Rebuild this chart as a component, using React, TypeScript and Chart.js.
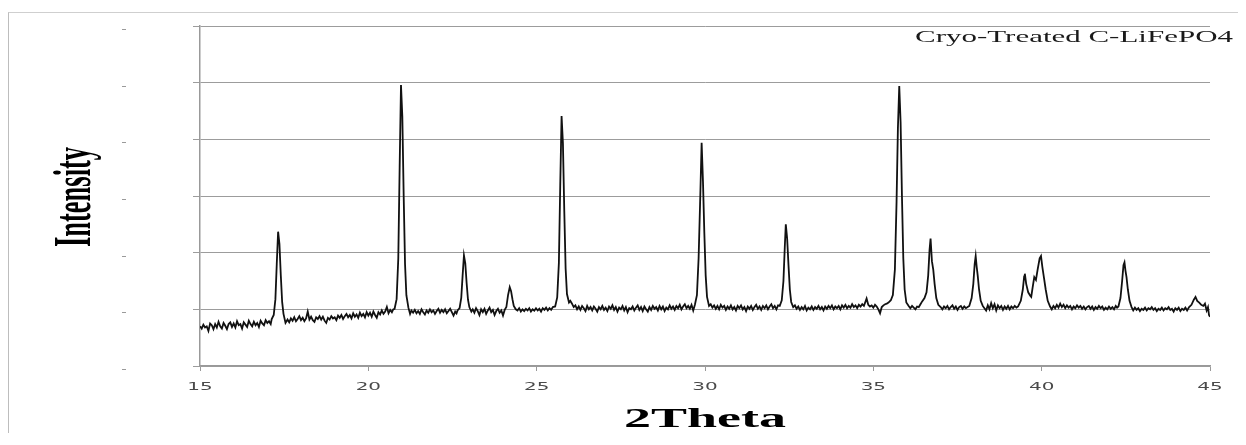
import React, { useEffect, useRef } from "react";
import { Chart, registerables } from "chart.js";

Chart.register(...registerables);

// [2Theta (deg), intensity (a.u.)]
const xrdScan: [number, number][] = [
  [15.0, 700], [15.05, 660], [15.1, 730], [15.15, 680], [15.2, 700], [15.25, 620], [15.3, 750], [15.35, 720],
  [15.4, 650], [15.45, 740], [15.5, 680], [15.55, 780], [15.6, 700], [15.65, 660], [15.7, 760], [15.75, 710],
  [15.8, 650], [15.85, 740], [15.9, 770], [15.95, 690], [16.0, 750], [16.05, 680], [16.1, 790], [16.15, 720],
  [16.2, 740], [16.25, 660], [16.3, 770], [16.35, 730], [16.4, 690], [16.45, 800], [16.5, 740], [16.55, 700],
  [16.6, 780], [16.65, 720], [16.7, 760], [16.75, 690], [16.8, 800], [16.85, 750], [16.9, 720], [16.95, 810],
  [17.0, 760], [17.05, 790], [17.1, 740],
  [17.13, 830], [17.19, 900], [17.24, 1180], [17.28, 1800], [17.32, 2370], [17.36, 2150], [17.40, 1600],
  [17.44, 1130], [17.48, 920], [17.54, 760],
  [17.6, 820], [17.65, 770], [17.7, 840], [17.75, 800], [17.8, 860], [17.85, 790], [17.9, 830], [17.95, 880],
  [18.0, 810], [18.05, 850], [18.1, 790], [18.15, 840], [18.2, 960], [18.25, 820], [18.3, 870], [18.35, 810],
  [18.4, 780], [18.45, 860], [18.5, 830], [18.55, 880], [18.6, 820], [18.65, 870], [18.7, 800], [18.75, 760],
  [18.8, 850], [18.85, 820], [18.9, 880], [18.95, 840], [19.0, 860], [19.05, 810], [19.1, 890], [19.15, 850],
  [19.2, 900], [19.25, 830], [19.3, 880], [19.35, 920], [19.4, 860], [19.45, 900], [19.5, 840], [19.55, 930],
  [19.6, 870], [19.65, 910], [19.7, 850], [19.75, 940], [19.8, 880], [19.85, 920], [19.9, 860], [19.95, 950],
  [20.0, 890], [20.05, 940], [20.1, 870], [20.15, 960], [20.2, 900], [20.25, 850], [20.3, 950], [20.35, 910],
  [20.4, 980], [20.45, 920], [20.5, 960], [20.55, 1040], [20.6, 930], [20.65, 990], [20.7, 950], [20.74, 1000],
  [20.78, 1010], [20.84, 1180], [20.89, 1900], [20.93, 3500], [20.97, 4960], [21.01, 4400], [21.05, 3000],
  [21.09, 1800], [21.13, 1250], [21.19, 1030],
  [21.24, 920], [21.28, 980], [21.33, 940], [21.38, 990], [21.43, 930], [21.48, 970], [21.53, 920], [21.58, 1000],
  [21.63, 950], [21.68, 910], [21.73, 980], [21.78, 940], [21.83, 1000], [21.88, 950], [21.93, 980], [21.98, 920],
  [22.03, 970], [22.08, 1010], [22.13, 940], [22.18, 990], [22.23, 950], [22.28, 1000], [22.33, 930], [22.38, 970],
  [22.43, 1010], [22.48, 950], [22.53, 890], [22.58, 960], [22.62, 930],
  [22.65, 980], [22.71, 1020], [22.76, 1200], [22.80, 1590], [22.84, 1950], [22.88, 1810], [22.92, 1460],
  [22.96, 1170], [23.0, 1040], [23.06, 960],
  [23.1, 1000], [23.15, 940], [23.2, 1020], [23.25, 970], [23.3, 900], [23.35, 1000], [23.4, 950], [23.45, 1010],
  [23.5, 920], [23.55, 980], [23.6, 1030], [23.65, 950], [23.7, 990], [23.75, 900], [23.8, 970], [23.85, 1010],
  [23.9, 940], [23.95, 980], [24.0, 890],
  [24.05, 990], [24.1, 1040], [24.15, 1250], [24.2, 1390], [24.24, 1320], [24.28, 1180], [24.32, 1060],
  [24.38, 1000],
  [24.43, 980], [24.48, 1020], [24.53, 960], [24.58, 1000], [24.63, 970], [24.68, 1010], [24.73, 980], [24.78, 1020],
  [24.83, 960], [24.88, 1000], [24.93, 975], [24.98, 1020], [25.03, 980], [25.08, 1010], [25.13, 960], [25.18, 1020],
  [25.23, 990], [25.28, 1030], [25.33, 980], [25.38, 1020], [25.43, 990], [25.48, 1040],
  [25.55, 1050], [25.61, 1210], [25.66, 1820], [25.70, 3180], [25.74, 4410], [25.78, 3930], [25.82, 2740],
  [25.86, 1720], [25.90, 1270], [25.96, 1120], [26.0, 1150], [26.05, 1100],
  [26.1, 1040], [26.15, 1070], [26.2, 1000], [26.25, 1050], [26.3, 990], [26.35, 1060], [26.4, 1020], [26.45, 970],
  [26.5, 1060], [26.55, 1000], [26.6, 1040], [26.65, 980], [26.7, 1050], [26.75, 1010], [26.8, 960], [26.85, 1040],
  [26.9, 1000], [26.95, 1060], [27.0, 990], [27.05, 1030], [27.1, 970], [27.15, 1050], [27.2, 1010], [27.25, 1070],
  [27.3, 990], [27.35, 1040], [27.4, 960], [27.45, 1030], [27.5, 1000], [27.55, 1060], [27.6, 980], [27.65, 1040],
  [27.7, 950], [27.75, 1020], [27.8, 1000], [27.85, 1050], [27.9, 980], [27.95, 1030], [28.0, 1070], [28.05, 990],
  [28.1, 1040], [28.15, 970], [28.2, 1050], [28.25, 1000], [28.3, 960], [28.35, 1040], [28.4, 990], [28.45, 1060],
  [28.5, 1010], [28.55, 1040], [28.6, 980], [28.65, 1060], [28.7, 1000], [28.75, 1050], [28.8, 970], [28.85, 1030],
  [28.9, 1000], [28.95, 1070], [29.0, 1010], [29.05, 1050], [29.1, 990], [29.15, 1060], [29.2, 1020], [29.25, 1080],
  [29.3, 1000], [29.35, 1050], [29.4, 1090], [29.45, 1020], [29.5, 1060], [29.55, 1010], [29.6, 1080], [29.65, 980],
  [29.70, 1080], [29.76, 1250], [29.81, 1900], [29.86, 3000], [29.90, 3940], [29.94, 3250], [29.98, 2350],
  [30.02, 1600], [30.06, 1220], [30.12, 1060],
  [30.17, 1090], [30.22, 1030], [30.27, 1070], [30.32, 1010], [30.37, 1060], [30.42, 1000], [30.47, 1080],
  [30.52, 1030], [30.57, 1060], [30.62, 990], [30.67, 1050], [30.72, 1010], [30.77, 1070], [30.82, 1000],
  [30.87, 1040], [30.92, 980], [30.97, 1060], [31.02, 1020], [31.07, 1070], [31.12, 1000], [31.17, 1040],
  [31.22, 970], [31.27, 1050], [31.32, 1010], [31.37, 1060], [31.42, 990], [31.47, 1040], [31.52, 1080],
  [31.57, 1010], [31.62, 1050], [31.67, 990], [31.72, 1060], [31.77, 1020], [31.82, 1070], [31.87, 1000],
  [31.92, 1050], [31.97, 1090], [32.02, 1020], [32.07, 1060], [32.12, 1000], [32.17, 1070],
  [32.22, 1060], [32.28, 1160], [32.33, 1500], [32.37, 2100], [32.40, 2500], [32.44, 2250], [32.48, 1780],
  [32.52, 1350], [32.56, 1130], [32.62, 1040],
  [32.67, 1070], [32.72, 1010], [32.77, 1050], [32.82, 990], [32.87, 1040], [32.92, 1000], [32.97, 1060],
  [33.02, 980], [33.07, 1030], [33.12, 1000], [33.17, 1050], [33.22, 990], [33.27, 1040], [33.32, 1010],
  [33.37, 1060], [33.42, 1000], [33.47, 1040], [33.52, 980], [33.57, 1050], [33.62, 1010], [33.67, 1060],
  [33.72, 1020], [33.77, 1070], [33.82, 1000], [33.87, 1050], [33.92, 1020], [33.97, 1060], [34.02, 1000],
  [34.07, 1070], [34.12, 1030], [34.17, 1080], [34.22, 1020], [34.27, 1060], [34.32, 1030], [34.37, 1090],
  [34.42, 1040], [34.47, 1070], [34.52, 1020], [34.57, 1080], [34.62, 1050], [34.67, 1090], [34.72, 1060],
  [34.77, 1140], [34.8, 1190], [34.85, 1080], [34.9, 1050], [34.95, 1070], [35.0, 1030], [35.05, 1080],
  [35.1, 1050], [35.15, 1000], [35.2, 930], [35.25, 1040], [35.3, 1070], [35.35, 1090], [35.4, 1100],
  [35.45, 1120],
  [35.52, 1160], [35.58, 1250], [35.64, 1700], [35.69, 2900], [35.73, 4200], [35.77, 4940], [35.81, 4300],
  [35.85, 3000], [35.89, 1900], [35.93, 1350], [35.98, 1120], [36.05, 1060],
  [36.1, 1020], [36.15, 1060], [36.2, 1030], [36.25, 1000], [36.3, 1050], [36.35, 1040], [36.4, 1090],
  [36.45, 1140],
  [36.52, 1200], [36.58, 1300], [36.63, 1600], [36.67, 2050], [36.70, 2250], [36.74, 1850], [36.78, 1700],
  [36.82, 1450], [36.87, 1200], [36.93, 1080], [37.0, 1040],
  [37.05, 1000], [37.1, 1050], [37.15, 1020], [37.2, 1060], [37.25, 1000], [37.3, 1040], [37.35, 1070],
  [37.4, 1010], [37.45, 1050], [37.5, 990], [37.55, 1040], [37.6, 1060], [37.65, 1010], [37.7, 1050],
  [37.75, 1020], [37.8, 1040],
  [37.85, 1060], [37.92, 1200], [37.97, 1450], [38.01, 1800], [38.04, 1940], [38.07, 1750], [38.10, 1600],
  [38.14, 1350], [38.19, 1150], [38.25, 1060],
  [38.3, 1020], [38.35, 980], [38.4, 1070], [38.45, 1000], [38.5, 1110], [38.55, 1020], [38.6, 1090],
  [38.65, 980], [38.7, 1070], [38.75, 1020], [38.8, 1060], [38.85, 990], [38.9, 1050], [38.95, 1010],
  [39.0, 1060], [39.05, 1000], [39.1, 1050], [39.15, 1020], [39.2, 1060], [39.25, 1030],
  [39.3, 1050], [39.38, 1150], [39.44, 1350], [39.48, 1580], [39.50, 1630], [39.54, 1450], [39.60, 1300],
  [39.66, 1240], [39.69, 1220], [39.73, 1380], [39.78, 1570], [39.83, 1520], [39.88, 1700], [39.94, 1900],
  [39.98, 1940], [40.02, 1750], [40.07, 1550], [40.12, 1350], [40.18, 1150], [40.25, 1050],
  [40.3, 1000], [40.35, 1060], [40.4, 1020], [40.45, 1080], [40.5, 1030], [40.55, 1100], [40.6, 1040],
  [40.65, 1080], [40.7, 1020], [40.75, 1070], [40.8, 1030], [40.85, 1060], [40.9, 1000], [40.95, 1050],
  [41.0, 1020], [41.05, 1070], [41.1, 1030], [41.15, 1060], [41.2, 1010], [41.25, 1050], [41.3, 1000],
  [41.35, 1040], [41.4, 1060], [41.45, 1010], [41.5, 1050], [41.55, 990], [41.6, 1040], [41.65, 1010],
  [41.7, 1060], [41.75, 1020], [41.8, 1050], [41.85, 990], [41.9, 1030], [41.95, 1000], [42.0, 1050],
  [42.05, 1010], [42.1, 1040], [42.15, 1000], [42.2, 1060], [42.24, 1030],
  [42.28, 1050], [42.34, 1200], [42.39, 1500], [42.43, 1780], [42.46, 1830], [42.49, 1680], [42.52, 1570],
  [42.56, 1350], [42.61, 1150], [42.67, 1040],
  [42.72, 980], [42.77, 1030], [42.82, 990], [42.87, 1020], [42.92, 970], [42.97, 1010], [43.02, 990],
  [43.07, 1030], [43.12, 980], [43.17, 1020], [43.22, 1000], [43.27, 1040], [43.32, 990], [43.37, 1020],
  [43.42, 970], [43.47, 1010], [43.52, 990], [43.57, 1030], [43.62, 980], [43.67, 1020], [43.72, 1000],
  [43.77, 1040], [43.82, 990], [43.87, 1010], [43.92, 960], [43.97, 1020], [44.02, 990], [44.07, 1030],
  [44.12, 970], [44.17, 1010], [44.22, 990], [44.27, 1030], [44.32, 980], [44.38, 1040],
  [44.45, 1080], [44.52, 1170], [44.57, 1220], [44.62, 1150], [44.68, 1120], [44.74, 1080], [44.8, 1060],
  [44.85, 1100], [44.9, 980], [44.94, 1040], [44.97, 900], [45.0, 870],
];

const xTickValues = [15, 20, 25, 30, 35, 40, 45];
const yTickValues = [0, 1000, 2000, 3000, 4000, 5000, 6000];
const seriesLabel = "Cryo-Treated C-LiFePO4";
const xTitle = "2Theta";
const yTitle = "Intensity";

function drawStretched(
  ctx: CanvasRenderingContext2D,
  text: string,
  x: number,
  y: number,
  sx: number,
  align: CanvasTextAlign
) {
  ctx.save();
  ctx.translate(x, y);
  ctx.scale(sx, 1);
  ctx.textAlign = align;
  ctx.textBaseline = "alphabetic";
  ctx.fillText(text, 0, 0);
  ctx.restore();
}

const textPlugin = {
  id: "stretchedText",
  afterDraw(chart: any) {
    const ctx: CanvasRenderingContext2D = chart.ctx;
    const xs = chart.scales.x;
    const ys = chart.scales.y;
    const area = chart.chartArea;
    ctx.save();

    // faded y tick labels (only a dash survives in the picture)
    ctx.fillStyle = "#9a9a9a";
    for (const v of yTickValues) {
      const py = Math.round(ys.getPixelForValue(v)) + 3;
      ctx.fillRect(113, py, 4, 1);
    }

    // x tick labels
    ctx.font = '10.5px "DejaVu Sans"';
    ctx.fillStyle = "#4a4a4a";
    for (const v of xTickValues) {
      drawStretched(ctx, String(v), xs.getPixelForValue(v), 377, 1.9, "center");
    }

    // x axis title
    ctx.font = 'bold 27px "Liberation Serif"';
    ctx.fillStyle = "#000";
    const wx = ctx.measureText(xTitle).width;
    drawStretched(ctx, xTitle, (area.left + area.right) / 2, 414, 162 / wx, "center");

    // y axis title (rotated, glyphs stretched across)
    ctx.font = 'bold 26.5px "Liberation Serif"';
    ctx.save();
    ctx.translate(81, (area.top + area.bottom) / 2 + 1);
    ctx.rotate(-Math.PI / 2);
    ctx.scale(1, 2);
    ctx.textAlign = "center";
    ctx.textBaseline = "alphabetic";
    ctx.fillText(yTitle, 0, 0);
    ctx.restore();

    // series label (legend)
    ctx.font = '17px "Liberation Serif"';
    ctx.fillStyle = "#1a1a1a";
    const wl = ctx.measureText(seriesLabel).width;
    drawStretched(ctx, seriesLabel, 906, 29, 318 / wl, "left");

    ctx.restore();
  },
};

export default function App() {
  const canvasRef = useRef<HTMLCanvasElement | null>(null);

  useEffect(() => {
    if (!canvasRef.current) return;
    const chart = new Chart(canvasRef.current, {
      type: "line",
      data: {
        datasets: [
          {
            label: seriesLabel,
            data: xrdScan.map(([x, y]) => ({ x, y })),
            borderColor: "#111111",
            borderWidth: 1.8,
            pointRadius: 0,
            tension: 0,
            fill: false,
          },
        ],
      },
      options: {
        animation: false,
        responsive: true,
        maintainAspectRatio: false,
        layout: { padding: { top: 13, right: 36, bottom: 0, left: 0 } },
        plugins: {
          legend: { display: false },
          tooltip: { enabled: false },
        },
        scales: {
          x: {
            type: "linear",
            min: 15,
            max: 45,
            afterBuildTicks: (s: any) => {
              s.ticks = xTickValues.map((v) => ({ value: v }));
            },
            afterFit: (s: any) => {
              s.height = 71;
            },
            ticks: { display: false },
            grid: { drawOnChartArea: false, drawTicks: true, tickLength: 5, color: "#999" },
            border: { color: "#999", width: 1.5 },
          },
          y: {
            type: "linear",
            min: 0,
            max: 6000,
            afterBuildTicks: (s: any) => {
              s.ticks = yTickValues.map((v) => ({ value: v }));
            },
            afterFit: (s: any) => {
              s.width = 191;
            },
            ticks: { display: false },
            grid: { color: "#9c9c9c", lineWidth: 1, tickLength: 7 },
            border: { color: "#999", width: 1.5 },
          },
        },
      },
      plugins: [textPlugin],
    });
    return () => chart.destroy();
  }, []);

  return (
    <div
      style={{
        position: "relative",
        top: 4,
        width: "calc(100% + 8px)",
        height: 425,
        boxSizing: "border-box",
        borderTop: "1px solid #cfcfcf",
        borderLeft: "1px solid #bdbdbd",
      }}
    >
      <div style={{ position: "relative", width: "100%", height: 424 }}>
        <canvas ref={canvasRef} />
      </div>
    </div>
  );
}
